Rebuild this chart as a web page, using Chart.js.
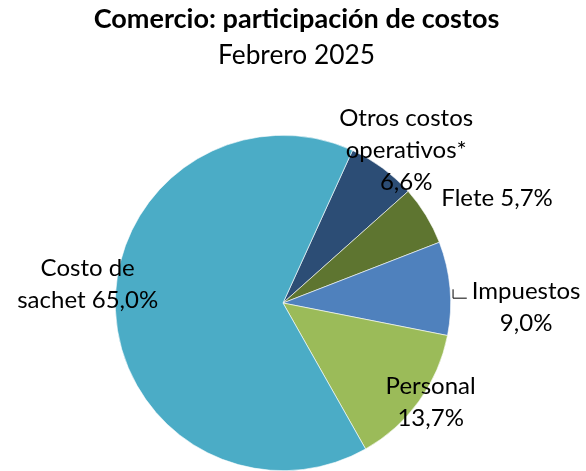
<!DOCTYPE html>
<html>
<head>
<meta charset="utf-8">
<script src="https://cdn.jsdelivr.net/npm/chart.js@4"></script>
<style>
  html, body { margin: 0; padding: 0; background: #fff; }
  #wrap { width: 586px; height: 471px; }
</style>
</head>
<body>
<div id="wrap"><canvas id="costos-chart" width="586" height="471"></canvas></div>
<script>
const chartTitle = 'Comercio: participación de costos';
const chartSubtitle = 'Febrero 2025';
const categories = ['Otros costos operativos*', 'Flete', 'Impuestos', 'Personal', 'Costo de sachet'];
const shares = [6.6, 5.7, 9.0, 13.7, 65.0];
const labelLines = [
  ['Otros costos', 'operativos*'],
  ['Flete'],
  ['Impuestos'],
  ['Personal'],
  ['Costo de', 'sachet']
];
const sliceColors = ['#2C4D75', '#5E7530', '#4F81BD', '#9BBB59', '#4BACC6'];

const FONT = 'Lato, "Open Sans", sans-serif';

function fmt(v) {
  return v.toFixed(1).replace('.', ',') + '%';
}

// where each data label sits: distance from centre (in radii) and angle offset (deg)
const placement = [
  { r: 1.17, da: 2.5, lines: (l, v) => [l[0], l[1], v] },
  { r: 1.42, da: 5.5, lines: (l, v) => [l[0] + ' ' + v] },
  { r: 1.45, da: 6, lines: (l, v) => [l[0], v], leader: true },
  { r: 1.06, da: -2, lines: (l, v) => [l[0], v] },
  { r: 1.17, da: 8, lines: (l, v) => [l[0], l[1] + ' ' + v] }
];

// pick a font size so the text spans the same width as the original (Calibri) title
function fitFont(ctx, text, weight, targetW) {
  ctx.font = weight + ' 30px ' + FONT;
  const s = 30 * targetW / ctx.measureText(text).width;
  return weight + ' ' + s.toFixed(2) + 'px ' + FONT;
}

// title sits a bit right of the pie centre, as in the original
const titleBlock = {
  id: 'titleBlock',
  afterDraw(chart) {
    const ctx = chart.ctx;
    const cx = 296.5;
    ctx.save();
    ctx.fillStyle = '#000';
    ctx.textAlign = 'center';
    ctx.textBaseline = 'middle';
    ctx.font = fitFont(ctx, chartTitle, 'bold', 406);
    ctx.fillText(chartTitle, cx, 19.5);
    ctx.font = fitFont(ctx, chartSubtitle, 'normal', 157);
    ctx.fillText(chartSubtitle, cx, 56);
    ctx.restore();
  }
};

const dataLabels = {
  id: 'dataLabels',
  afterDatasetsDraw(chart) {
    const ctx = chart.ctx;
    const meta = chart.getDatasetMeta(0);
    ctx.save();
    ctx.font = '24px ' + FONT;
    ctx.fillStyle = '#000';
    ctx.textAlign = 'center';
    ctx.textBaseline = 'middle';
    meta.data.forEach((arc, i) => {
      const p = placement[i];
      const mid = (arc.startAngle + arc.endAngle) / 2 + p.da * Math.PI / 180;
      const rr = arc.outerRadius * p.r;
      const cx = arc.x + Math.cos(mid) * rr;
      const cy = arc.y + Math.sin(mid) * rr;
      const lines = p.lines(labelLines[i], fmt(shares[i]));
      const lh = 32;
      const y0 = cy - (lines.length - 1) * lh / 2;
      lines.forEach((t, k) => ctx.fillText(t, cx, y0 + k * lh));
      if (p.leader) {
        // small bent leader from the slice edge to the label
        const am = (arc.startAngle + arc.endAngle) / 2;
        const ex = arc.x + Math.cos(am) * arc.outerRadius;
        const ey = arc.y + Math.sin(am) * arc.outerRadius;
        const w = ctx.measureText(lines[0]).width;
        ctx.beginPath();
        ctx.strokeStyle = '#000';
        ctx.lineWidth = 1;
        ctx.moveTo(ex + 3, ey + 1);
        ctx.lineTo(ex + 3, y0 + 7);
        ctx.lineTo(cx - w / 2 - 5, y0 + 7);
        ctx.stroke();
      }
    });
    ctx.restore();
  }
};

new Chart(document.getElementById('costos-chart'), {
  type: 'pie',
  data: {
    labels: categories,
    datasets: [{
      data: shares,
      backgroundColor: sliceColors,
      borderColor: '#ffffff',
      borderWidth: 0.6
    }]
  },
  options: {
    responsive: false,
    animation: false,
    rotation: 24.5,
    layout: { padding: { left: 115, right: 135, top: 135, bottom: 0 } },
    plugins: {
      legend: { display: false },
      tooltip: { enabled: false },
      title: { display: false }
    }
  },
  plugins: [dataLabels, titleBlock]
});
</script>
</body>
</html>
